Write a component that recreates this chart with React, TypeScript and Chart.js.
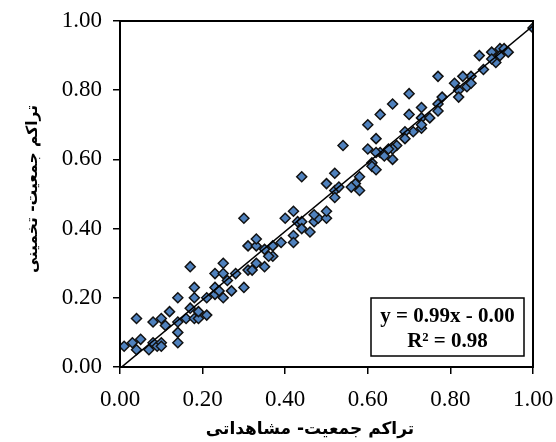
import { useEffect, useRef } from "react";
import Chart from "chart.js/auto";

const observed = [
  0.01, 0.03, 0.04, 0.05, 0.04, 0.07, 0.08, 0.09, 0.1, 0.1,
  0.08, 0.1, 0.12, 0.11, 0.14, 0.14, 0.14, 0.14, 0.17, 0.16,
  0.17, 0.18, 0.18, 0.18, 0.19, 0.19, 0.21, 0.21, 0.23, 0.23,
  0.23, 0.24, 0.25, 0.25, 0.25, 0.26, 0.27, 0.28, 0.3, 0.31,
  0.3, 0.31, 0.33, 0.33, 0.32, 0.33, 0.35, 0.35, 0.37, 0.37,
  0.39, 0.4, 0.42, 0.42, 0.42, 0.43, 0.44, 0.46, 0.47, 0.48,
  0.5, 0.5, 0.44, 0.52, 0.5, 0.52, 0.52, 0.47, 0.44, 0.36,
  0.54, 0.6, 0.63, 0.66, 0.7, 0.62, 0.6, 0.73, 0.7, 0.73,
  0.75, 0.77, 0.77, 0.73, 0.71, 0.69, 0.69, 0.67, 0.66, 0.65,
  0.63, 0.64, 0.66, 0.62, 0.61, 0.61, 0.62, 0.58, 0.57, 0.53,
  0.56, 0.58,
  1.0, 0.87, 0.9, 0.92, 0.93, 0.92, 0.91, 0.88, 0.85, 0.83,
  0.81, 0.84, 0.82, 0.82, 0.85, 0.77, 0.73, 0.94, 0.9, 0.78,
];
const estimated = [
  0.06, 0.07, 0.05, 0.08, 0.14, 0.05, 0.07, 0.06, 0.07, 0.06,
  0.13, 0.14, 0.16, 0.12, 0.1, 0.07, 0.13, 0.2, 0.29, 0.14,
  0.17, 0.14, 0.2, 0.23, 0.14, 0.16, 0.2, 0.15, 0.21, 0.27,
  0.23, 0.22, 0.2, 0.3, 0.27, 0.25, 0.22, 0.27, 0.23, 0.28,
  0.43, 0.35, 0.35, 0.37, 0.28, 0.3, 0.29, 0.34, 0.35, 0.32,
  0.36, 0.43, 0.38, 0.45, 0.36, 0.42, 0.42, 0.39, 0.42, 0.43,
  0.43, 0.45, 0.55, 0.56, 0.53, 0.51, 0.49, 0.44, 0.4, 0.32,
  0.64, 0.7, 0.73, 0.76, 0.79, 0.66, 0.63, 0.75, 0.73, 0.72,
  0.72, 0.76, 0.74, 0.69, 0.68, 0.68, 0.66, 0.64, 0.63, 0.63,
  0.62, 0.61, 0.6, 0.62, 0.59, 0.58, 0.57, 0.55, 0.53, 0.52,
  0.52, 0.51,
  0.98, 0.9, 0.91, 0.92, 0.92, 0.9, 0.88, 0.86, 0.84, 0.84,
  0.82, 0.81, 0.8, 0.78, 0.82, 0.84, 0.7, 0.91, 0.89, 0.78,
];

// linear trend line y = 0.99x - 0.00
const trendX = [0, 1];
const trendY = [-0.004, 0.986];

const equationLines = ["y = 0.99x - 0.00", "R² = 0.98"];
const xTitle = "تراکم جمعیت- مشاهداتی";
const yTitle = "تراکم جمعیت- تخمینی";

const serif = "'Liberation Serif', 'Times New Roman', serif";
const persian = "'DejaVu Sans', sans-serif";

const framePlugin = {
  id: "frame",
  afterDraw(chart: any) {
    const { ctx, chartArea: a } = chart;
    ctx.save();
    ctx.strokeStyle = "#000";
    ctx.lineWidth = 2;
    ctx.strokeRect(a.left, a.top, a.right - a.left, a.bottom - a.top);

    // equation box
    const bw = 153, bh = 58;
    const bx = a.right - 9 - bw;
    const by = a.bottom - 11 - bh;
    ctx.fillStyle = "#fff";
    ctx.fillRect(bx, by, bw, bh);
    ctx.lineWidth = 1.5;
    ctx.strokeRect(bx, by, bw, bh);
    ctx.fillStyle = "#000";
    ctx.font = `bold 21px ${serif}`;
    ctx.textAlign = "center";
    ctx.textBaseline = "middle";
    ctx.fillText(equationLines[0], bx + bw / 2, by + 19);
    ctx.fillText(equationLines[1], bx + bw / 2, by + 44);

    // axis titles
    ctx.direction = "rtl";
    ctx.font = `bold 17px ${persian}`;
    ctx.fillText(xTitle, 310, 430);
    ctx.font = `bold 15.5px ${persian}`;
    ctx.translate(33, 189);
    ctx.rotate(-Math.PI / 2);
    ctx.fillText(yTitle, 0, 0);
    ctx.restore();
  },
};

export default function App() {
  const ref = useRef<HTMLCanvasElement | null>(null);

  useEffect(() => {
    if (!ref.current) return;
    const points = observed.map((x, i) => ({ x, y: estimated[i] }));
    const trend = trendX.map((x, i) => ({ x, y: trendY[i] }));

    const axis = (isY: boolean) => ({
      type: "linear" as const,
      min: 0,
      max: 1,
      grid: {
        drawOnChartArea: false,
        drawTicks: true,
        tickLength: 7,
        color: "#000",
        lineWidth: 1.5,
      },
      border: { display: true, color: "#000", width: 2 },
      ticks: {
        stepSize: 0.2,
        autoSkip: false,
        maxRotation: 0,
        padding: isY ? 11 : 12,
        color: "#000",
        font: { family: serif, size: 23 },
        callback: (v: any) => Number(v).toFixed(2),
      },
      afterFit: (scale: any) => {
        // fixed plot box: left 120, right 533, top 21, bottom 367
        if (isY) {
          scale.width = 120;
          scale.paddingTop = 0;
          scale.paddingBottom = 0;
        } else {
          scale.height = 75;
          scale.paddingLeft = 0;
          scale.paddingRight = 0;
        }
      },
    });

    const chart = new Chart(ref.current, {
      type: "scatter",
      data: {
        datasets: [
          {
            type: "line",
            data: trend,
            borderColor: "#000",
            borderWidth: 1.5,
            pointRadius: 0,
            fill: false,
          },
          {
            data: points,
            pointStyle: "rectRot",
            pointRadius: 5,
            backgroundColor: "#4F81BD",
            borderColor: "#111",
            borderWidth: 1.5,
          },
        ],
      },
      options: {
        animation: false,
        responsive: false,
        devicePixelRatio: 1,
        layout: { padding: { top: 21, right: 23, left: 0, bottom: 0 } },
        plugins: { legend: { display: false }, tooltip: { enabled: false } },
        scales: { x: axis(false), y: axis(true) },
      },
      plugins: [framePlugin],
    });

    return () => chart.destroy();
  }, []);

  return (
    <div style={{ position: "fixed", left: 0, top: 0, width: 556, height: 442, background: "#fff" }}>
      <canvas ref={ref} width={556} height={442} />
    </div>
  );
}
